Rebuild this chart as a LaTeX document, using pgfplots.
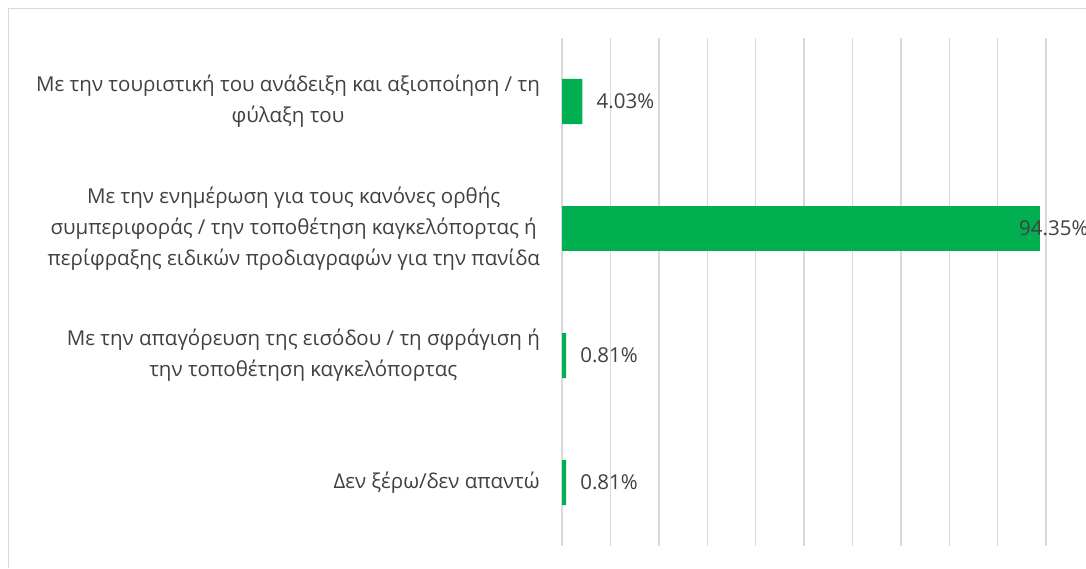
\documentclass[border=0pt]{standalone}
\usepackage{fontspec}
\setmainfont{Open Sans}
\usepackage{pgfplots}
\pgfplotsset{compat=1.18}
\definecolor{barg}{HTML}{00B050}
\definecolor{gridc}{HTML}{D9D9D9}
\definecolor{txt}{HTML}{404040}
\begin{document}
\begin{tikzpicture}
\useasboundingbox (0,0) rectangle (1086pt,568pt);
\draw[gridc, line width=1.3pt] (8.7pt,0pt) -- (8.7pt,559.3pt) -- (1086pt,559.3pt);
\begin{axis}[
  at={(562pt,22pt)}, anchor=south west, scale only axis,
  width=484pt, height=508pt,
  xbar, bar width=45pt, bar shift=0pt,
  xmin=0, xmax=95.53, ymin=0.5, ymax=4.5,
  xtick={0,9.553,19.106,28.659,38.212,47.765,57.318,66.871,76.424,85.977,95.53},
  xticklabels={},
  xmajorgrids, major grid style={gridc, line width=1.4pt},
  axis line style={draw=none}, major tick length=0pt,
  ytick={1,2,3,4},
  yticklabels={
    {Δεν ξέρω/δεν απαντώ},
    {Με την απαγόρευση της εισόδου / τη σφράγιση ή\\την τοποθέτηση καγκελόπορτας},
    {Με την ενημέρωση για τους κανόνες ορθής\\συμπεριφοράς / την τοποθέτηση καγκελόπορτας ή\\περίφραξης ειδικών προδιαγραφών για την πανίδα},
    {Με την τουριστική του ανάδειξη και αξιοποίηση / τη\\φύλαξη του}
  },
  yticklabel style={align=center, inner sep=0pt, xshift=-22pt, font=\fontsize{20.5}{31}\selectfont, text=txt},
  point meta=x,
  clip=false,
]
\addplot[fill=barg, draw=none,
  nodes near coords={\pgfmathprintnumber[fixed,precision=2,fixed zerofill,assume math mode=true]{\pgfplotspointmeta}\%},
  every node near coord/.append style={anchor=west, inner sep=0pt, xshift=14pt, font=\fontsize{20.5}{24}\selectfont, text=txt}]
  coordinates {(0.81,1) (0.81,2) (4.03,4)};
\addplot[fill=barg, draw=none,
  nodes near coords={\pgfmathprintnumber[fixed,precision=2,fixed zerofill,assume math mode=true]{\pgfplotspointmeta}\%},
  every node near coord/.append style={anchor=west, inner sep=0pt, xshift=-21pt, font=\fontsize{20.5}{24}\selectfont, text=txt}]
  coordinates {(94.35,3)};
\end{axis}
\end{tikzpicture}
\end{document}
